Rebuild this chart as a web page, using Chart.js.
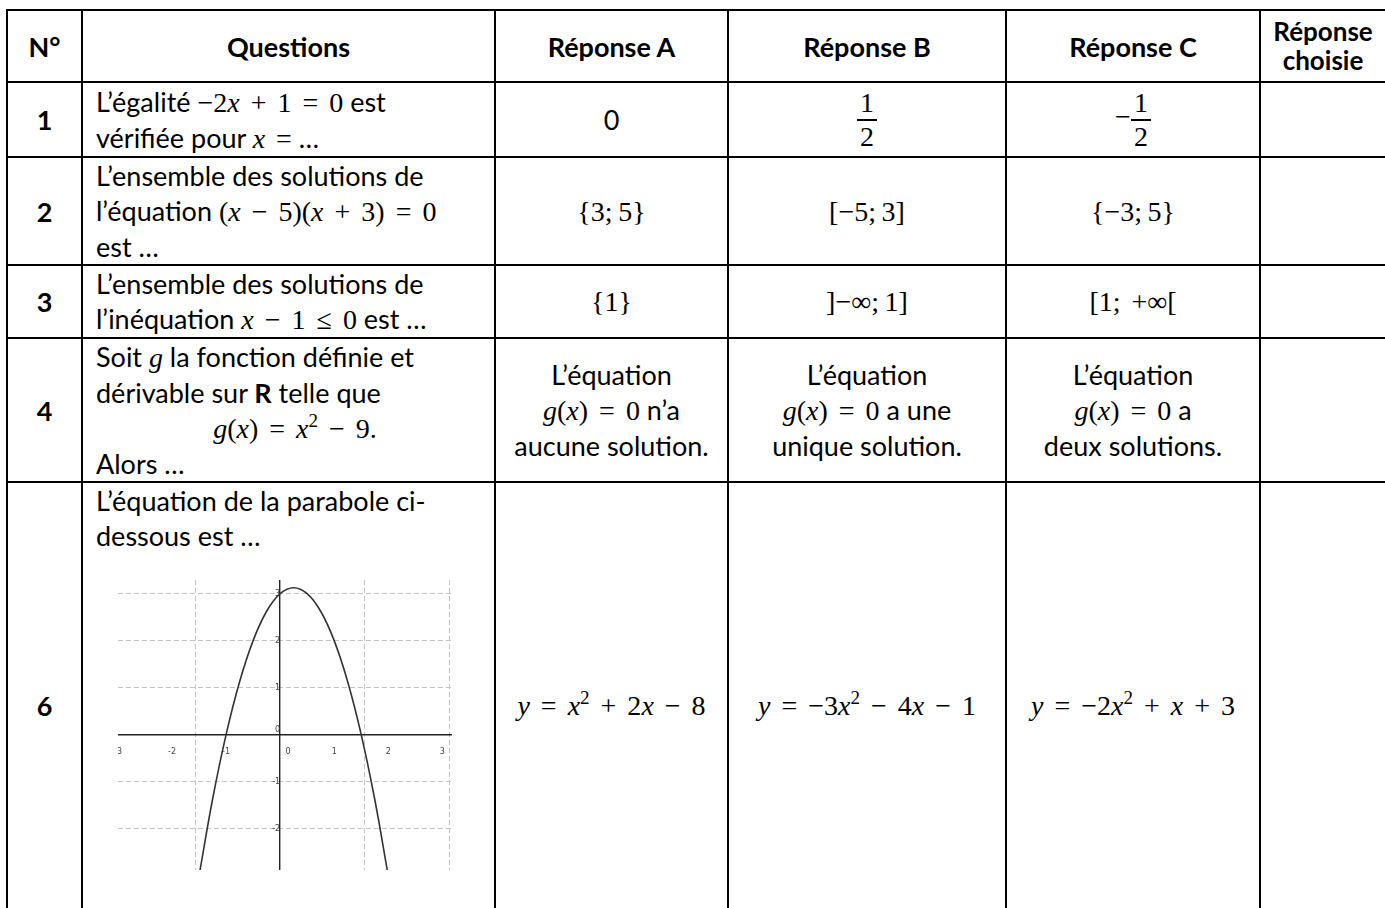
<!DOCTYPE html>
<html lang="fr">
<head>
<meta charset="utf-8">
<title>QCM - équations</title>
<script src="https://cdn.jsdelivr.net/npm/chart.js@4.4.1/dist/chart.umd.min.js"></script>
<style>
  html, body { margin: 0; padding: 0; background: #fff; }
  body {
    width: 1385px; height: 908px; overflow: hidden; position: relative;
    font-family: Lato, "Open Sans", sans-serif; color: #000;
  }
  .tableau {
    position: absolute; left: 6px; top: 9px;
    display: grid;
    grid-template-columns: 73px 411px 231px 276px 252px 124px;
    grid-template-rows: 70px 73px 106px 71px 142px 444px;
    gap: 2px; padding: 2px; background: #000;
  }
  .c {
    background: #fff; display: flex; flex-direction: column; justify-content: center;
    font-size: 27px; line-height: 35px; position: relative;
  }
  .h { font-weight: 700; align-items: center; text-align: center; }
  .n { font-weight: 700; align-items: center; }
  .q { padding-left: 13px; }
  .r { align-items: center; text-align: center; }
  .haut { justify-content: flex-start; }
  .m { font-family: "Liberation Serif", serif; font-size: 28px; word-spacing: 4px; }
  .m sup { font-size: 0.68em; line-height: 0; vertical-align: 0.6em; }
  .frac { display: inline-flex; flex-direction: column; align-items: center; vertical-align: middle; line-height: 32px; }
  .frac .den { border-top: 2px solid #000; padding: 0 3px; }
  .graphe { position: absolute; left: 35px; top: 97px; width: 334px; height: 290px; }
</style>
</head>
<body>
<div class="tableau">
  <div class="c h"><div>N°</div></div>
  <div class="c h"><div>Questions</div></div>
  <div class="c h"><div>Réponse A</div></div>
  <div class="c h"><div>Réponse B</div></div>
  <div class="c h"><div>Réponse C</div></div>
  <div class="c h" style="font-size:26px; line-height:29px"><div>Réponse<br>choisie</div></div>

  <div class="c n"><div>1</div></div>
  <div class="c q"><div>L’égalité <span class="m">−2<i>x</i> + 1 = 0</span> est<br>vérifiée pour <span class="m"><i>x</i> =</span> …</div></div>
  <div class="c r"><div>0</div></div>
  <div class="c r"><div class="m"><span class="frac"><span>1</span><span class="den">2</span></span></div></div>
  <div class="c r"><div class="m">−<span class="frac"><span>1</span><span class="den">2</span></span></div></div>
  <div class="c"></div>

  <div class="c n"><div>2</div></div>
  <div class="c q"><div>L’ensemble des solutions de<br>l’équation <span class="m">(<i>x</i> − 5)(<i>x</i> + 3) = 0</span><br>est …</div></div>
  <div class="c r"><div class="m">{3;&thinsp;5}</div></div>
  <div class="c r"><div class="m">[−5;&thinsp;3]</div></div>
  <div class="c r"><div class="m">{−3;&thinsp;5}</div></div>
  <div class="c"></div>

  <div class="c n"><div>3</div></div>
  <div class="c q"><div>L’ensemble des solutions de<br>l’inéquation <span class="m"><i>x</i> − 1 ≤ 0</span> est …</div></div>
  <div class="c r"><div class="m">{1}</div></div>
  <div class="c r"><div class="m">]−∞;&thinsp;1]</div></div>
  <div class="c r"><div class="m">[1; +∞[</div></div>
  <div class="c"></div>

  <div class="c n"><div>4</div></div>
  <div class="c q"><div>
    <div>Soit <span class="m"><i>g</i></span> la fonction définie et</div>
    <div>dérivable sur <b>R</b> telle que</div>
    <div style="text-align:center"><span class="m"><i>g</i>(<i>x</i>) = <i>x</i><sup>2</sup> − 9.</span></div>
    <div>Alors …</div>
  </div></div>
  <div class="c r"><div>L’équation<br><span class="m"><i>g</i>(<i>x</i>) = 0</span> n’a<br>aucune solution.</div></div>
  <div class="c r"><div>L’équation<br><span class="m"><i>g</i>(<i>x</i>) = 0</span> a une<br>unique solution.</div></div>
  <div class="c r"><div>L’équation<br><span class="m"><i>g</i>(<i>x</i>) = 0</span> a<br>deux solutions.</div></div>
  <div class="c"></div>

  <div class="c n"><div>6</div></div>
  <div class="c q haut">
    <div>L’équation de la parabole ci-<br>dessous est …</div>
    <div class="graphe"><canvas id="parabole"></canvas></div>
  </div>
  <div class="c r"><div class="m"><i>y</i> = <i>x</i><sup>2</sup> + 2<i>x</i> − 8</div></div>
  <div class="c r"><div class="m"><i>y</i> = −3<i>x</i><sup>2</sup> − 4<i>x</i> − 1</div></div>
  <div class="c r"><div class="m"><i>y</i> = −2<i>x</i><sup>2</sup> + <i>x</i> + 3</div></div>
  <div class="c"></div>
</div>

<script>
// points
const courbeX = [-1.5, -1.25, -1, -0.75, -0.5, -0.25, 0, 0.25, 0.5, 0.75, 1, 1.25, 1.5, 1.75, 2];
const courbeY = [-3, -1.375, 0, 1.125, 2, 2.625, 3, 3.125, 3, 2.625, 2, 1.125, 0, -1.375, -3];

// graduations et grille
const graduationsX = [-3, -2, -1, 0, 1, 2, 3];
const graduationsY = [-2, -1, 0, 1, 2, 3];
const grilleX = [-3.14, -1.57, 1.57, 3.14];
const grilleY = [-2, -1, 1, 2, 3];

const xMin = -3, xMax = 3.18;
const yMin = -2.88, yMax = 3.29;

function sansPlace(axe) {
  axe.width = axe.isHorizontal() ? axe.width : 0;
  axe.height = axe.isHorizontal() ? 0 : axe.height;
  axe.paddingLeft = 0;
  axe.paddingRight = 0;
  axe.paddingTop = 0;
  axe.paddingBottom = 0;
}

function valeurs(liste) {
  return (axe) => {
    axe.ticks = liste.map((v) => ({ value: v }));
  };
}

const policeGraduation = { family: "DejaVu Sans", size: 8 };

const points = courbeX.map((x, i) => ({ x, y: courbeY[i] }));

new Chart(document.getElementById("parabole"), {
  type: "scatter",
  data: {
    datasets: [
      {
        data: points,
        showLine: true,
        pointRadius: 0,
        borderColor: "#333",
        borderWidth: 1.6,
        tension: 0.4,
        fill: false,
      },
    ],
  },
  options: {
    responsive: true,
    maintainAspectRatio: false,
    animation: false,
    events: [],
    layout: { padding: 0 },
    plugins: { legend: { display: false }, tooltip: { enabled: false } },
    scales: {
      xGrille: {
        type: "linear",
        position: "bottom",
        min: xMin,
        max: xMax,
        afterBuildTicks: valeurs(grilleX),
        afterFit: sansPlace,
        ticks: { display: false },
        grid: { color: "#c4c4c4", lineWidth: 1, drawTicks: false },
        border: { display: false, dash: [5, 3] },
      },
      yGrille: {
        type: "linear",
        position: "left",
        min: yMin,
        max: yMax,
        afterBuildTicks: valeurs(grilleY),
        afterFit: sansPlace,
        ticks: { display: false },
        grid: { color: "#c4c4c4", lineWidth: 1, drawTicks: false },
        border: { display: false, dash: [5, 3] },
      },
      x: {
        type: "linear",
        position: { y: 0 },
        min: xMin,
        max: xMax,
        afterBuildTicks: valeurs(graduationsX),
        afterFit: sansPlace,
        grid: { display: false },
        border: { display: true, color: "#222", width: 1.4 },
        ticks: {
          autoSkip: false,
          maxRotation: 0,
          padding: 4,
          color: "#444",
          font: policeGraduation,
          callback: (v) => (v === 0 ? "\u2003\u20030" : String(v)),
        },
      },
      y: {
        type: "linear",
        position: { x: 0 },
        min: yMin,
        max: yMax,
        afterBuildTicks: valeurs(graduationsY),
        afterFit: sansPlace,
        grid: { display: false },
        border: { display: true, color: "#222", width: 1.4 },
        ticks: {
          autoSkip: false,
          padding: 5,
          color: "#444",
          font: policeGraduation,
          callback: (v) => (v === 0 ? ["0", ""] : String(v)),
        },
      },
    },
  },
});
</script>
</body>
</html>
